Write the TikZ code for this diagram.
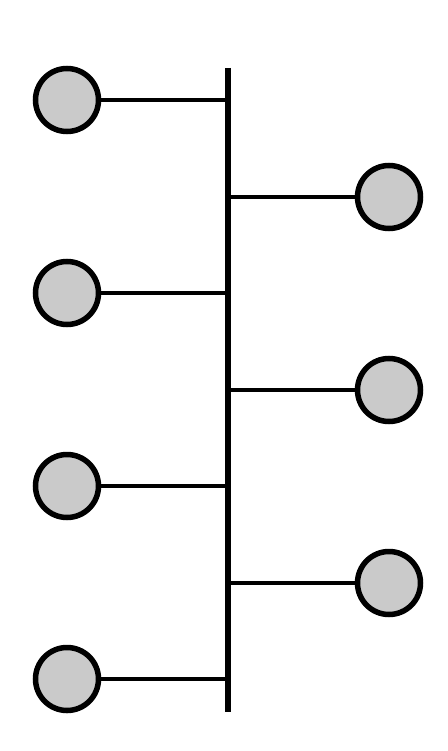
\documentclass[tikz,border=0pt]{standalone}
\definecolor{nodegray}{RGB}{202,202,202}
\begin{document}
\begin{tikzpicture}[x=1pt,y=-1pt,
  leaf/.style={circle,draw=black,line width=5.5pt,fill=nodegray,minimum size=63pt,inner sep=0pt},
  spine/.style={line width=6pt},
  branch/.style={line width=4.8pt}]
\useasboundingbox[fill=white] (0,0) rectangle (447,751);
\coordinate (top) at (228,68);
\coordinate (bot) at (228,712);
\draw[spine] (top) -- (bot);
\foreach \n/\y in {l1/100,l2/293,l3/486,l4/679}{
  \node[leaf] (\n) at (67,\y) {};
  \coordinate (\n s) at (228,\y);
  \draw[branch] (\n) -- (\n s);
}
\foreach \n/\y in {r1/197,r2/390,r3/583}{
  \node[leaf] (\n) at (389,\y) {};
  \coordinate (\n s) at (228,\y);
  \draw[branch] (\n s) -- (\n);
}
\end{tikzpicture}
\end{document}
